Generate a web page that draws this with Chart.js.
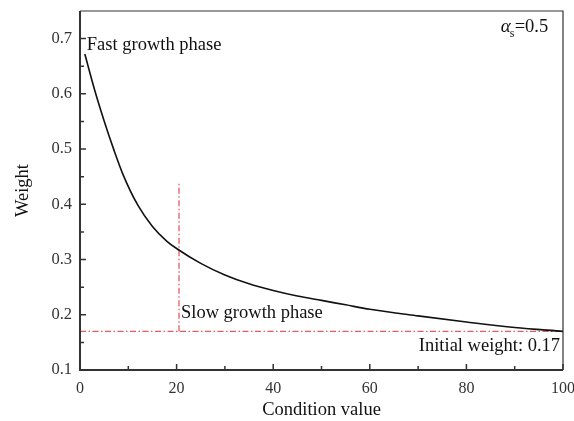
<!DOCTYPE html>
<html>
<head>
<meta charset="utf-8">
<script src="https://cdn.jsdelivr.net/npm/chart.js@4"></script>
<style>
  html, body { margin: 0; padding: 0; background: #fff; }
  #wrap { width: 574px; height: 421px; }
</style>
</head>
<body>
<div id="wrap"><canvas id="grafico" width="574" height="421"></canvas></div>
<script>
// dados
const conditionValues = [1, 3, 5, 7, 9, 12, 15, 18, 20, 25, 30, 35, 40, 45, 50, 55, 60, 70, 80, 90, 100];
const weightValues = [0.672, 0.608, 0.551, 0.499, 0.452, 0.398, 0.360, 0.333, 0.320, 0.293, 0.272, 0.256, 0.244, 0.234, 0.226, 0.218, 0.210, 0.198, 0.187, 0.177, 0.170];
const initialWeight = 0.17;
const boundaryX = 20.5;
const boundaryTop = 0.44;
const xTicks = [0, 20, 40, 60, 80, 100];
const yTicks = [0.1, 0.2, 0.3, 0.4, 0.5, 0.6, 0.7];

const serif = "'Liberation Serif', 'Times New Roman', serif";
const red = "rgba(228, 60, 70, 0.85)";

// sem folga extra do Chart.js nas bordas
const semPadding = s => { s.paddingLeft = 0; s.paddingRight = 0; s.paddingTop = 0; s.paddingBottom = 0; };

// ------------------ moldura, ticks para dentro e textos ------------------
const extras = {
    id: "extras",
    afterDraw(chart) {
        const ctx = chart.ctx;
        const a = chart.chartArea;
        const sx = chart.scales.x;
        const sy = chart.scales.y;
        ctx.save();
        ctx.strokeStyle = "#333";
        ctx.lineWidth = 1.2;
        ctx.beginPath();
        ctx.moveTo(a.left, a.top); ctx.lineTo(a.right, a.top); ctx.lineTo(a.right, a.bottom);
        ctx.stroke();
        ctx.lineWidth = 2;
        ctx.beginPath();
        ctx.moveTo(a.left, a.top); ctx.lineTo(a.left, a.bottom); ctx.lineTo(a.right, a.bottom);
        ctx.stroke();

        ctx.lineWidth = 1.5;
        ctx.beginPath();
        for (let v = 0; v <= 100; v += 10) {
            const px = sx.getPixelForValue(v);
            const len = v % 20 === 0 ? 6 : 4;
            ctx.moveTo(px, a.bottom); ctx.lineTo(px, a.bottom - len);
        }
        for (let i = 0; i <= 12; i++) {
            const v = 0.1 + i * 0.05;
            const py = sy.getPixelForValue(v);
            const len = i % 2 === 0 ? 6 : 4;
            ctx.moveTo(a.left, py); ctx.lineTo(a.left + len, py);
        }
        ctx.stroke();

        ctx.fillStyle = "#111";
        ctx.font = "18.5px " + serif;
        ctx.textBaseline = "middle";
        ctx.textAlign = "left";
        ctx.fillText("Fast growth phase", sx.getPixelForValue(1.4), sy.getPixelForValue(0.689));
        ctx.fillText("Slow growth phase", sx.getPixelForValue(20.9), sy.getPixelForValue(0.2036));
        ctx.textAlign = "right";
        ctx.fillText("Initial weight: 0.17", sx.getPixelForValue(99.4), sy.getPixelForValue(0.144));

        // alfa_s = 0.5
        ctx.textAlign = "left";
        const ax = sx.getPixelForValue(87.1);
        const ay = sy.getPixelForValue(0.721);
        ctx.font = "italic 19px " + serif;
        ctx.fillText("α", ax, ay);
        const aw = ctx.measureText("α").width;
        ctx.font = "12px " + serif;
        ctx.fillText("s", ax + aw - 1, ay + 7);
        ctx.font = "18.5px " + serif;
        ctx.fillText("=0.5", ax + aw + 4, ay);
        ctx.restore();
    }
};

new Chart(document.getElementById("grafico"), {
    type: "line",
    data: {
        datasets: [
            {
                label: "Weight",
                data: conditionValues.map((c, i) => ({ x: c, y: weightValues[i] })),
                borderColor: "#111",
                borderWidth: 1.6,
                pointRadius: 0,
                cubicInterpolationMode: "monotone"
            },
            {
                label: "Initial weight",
                data: [{ x: 0, y: initialWeight }, { x: 100, y: initialWeight }],
                borderColor: red,
                borderWidth: 1.3,
                borderDash: [6, 2.5, 1.5, 2.5],
                pointRadius: 0
            },
            {
                label: "Boundary",
                data: [{ x: boundaryX, y: initialWeight }, { x: boundaryX, y: boundaryTop }],
                borderColor: red,
                borderWidth: 1.3,
                borderDash: [6, 2.5, 1.5, 2.5],
                pointRadius: 0
            }
        ]
    },
    options: {
        responsive: false,
        animation: false,
        layout: { padding: { top: 11, right: 11, left: 0, bottom: 0 } },
        plugins: { legend: { display: false }, tooltip: { enabled: false } },
        scales: {
            x: {
                type: "linear",
                min: 0, max: 100,
                grid: { display: false, drawTicks: false },
                border: { display: false },
                afterBuildTicks: s => { s.ticks = xTicks.map(v => ({ value: v })); },
                afterFit: s => { s.height = 51; semPadding(s); },
                ticks: { color: "#333", font: { family: serif, size: 16 }, padding: 9, maxRotation: 0 },
                title: { display: true, text: "Condition value", color: "#111", font: { family: serif, size: 18.5 }, padding: { top: 0, bottom: 0 } }
            },
            y: {
                type: "linear",
                min: 0.1, max: 0.75,
                grid: { display: false, drawTicks: false },
                border: { display: false },
                afterBuildTicks: s => { s.ticks = yTicks.map(v => ({ value: v })); },
                afterFit: s => { s.width = 80; semPadding(s); },
                ticks: { color: "#333", font: { family: serif, size: 16.5 }, padding: 8, callback: v => v.toFixed(1) },
                title: { display: true, text: "Weight", color: "#111", font: { family: serif, size: 18.5 }, padding: { top: 12, bottom: 0 } }
            }
        }
    },
    plugins: [extras]
});
</script>
</body>
</html>
